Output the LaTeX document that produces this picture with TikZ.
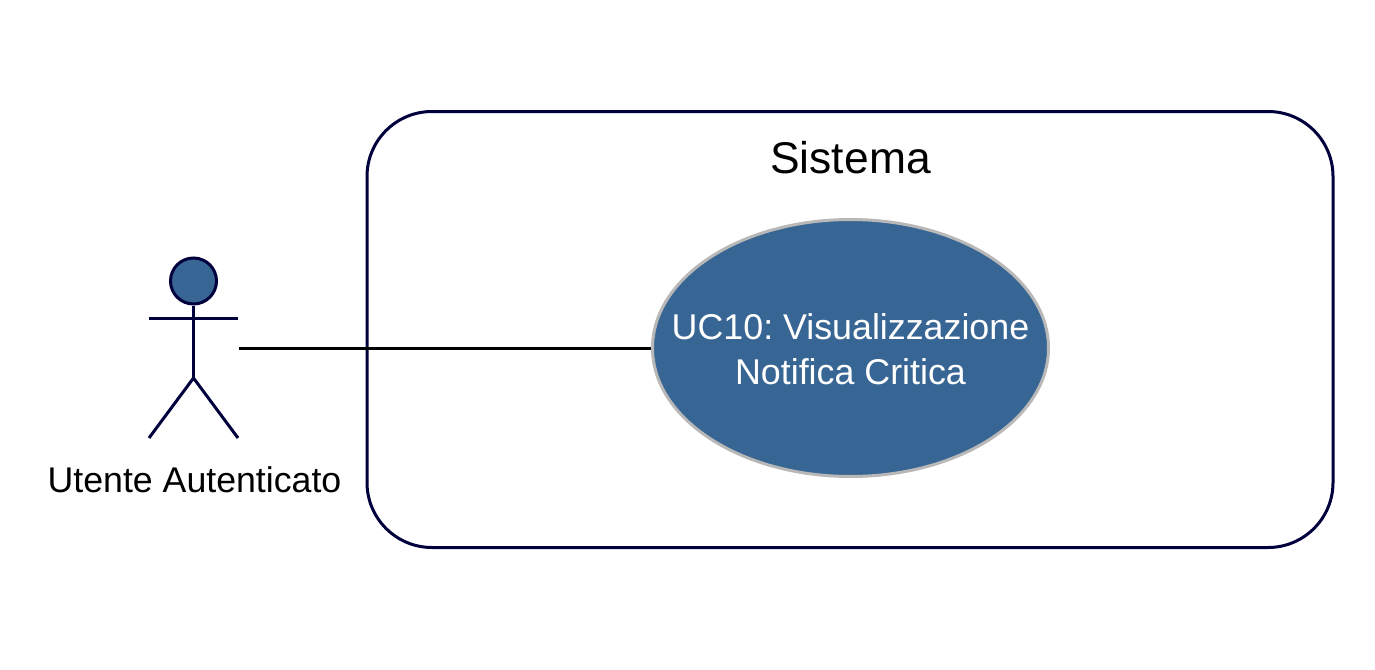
\documentclass[tikz,border=0pt]{standalone}
\usepackage{fontspec}
\setmainfont{Liberation Sans}
\usetikzlibrary{shapes.geometric}
\definecolor{navy}{HTML}{00003C}
\definecolor{ucblue}{HTML}{386694}
\definecolor{ucedge}{HTML}{B8B8B8}
\tikzset{
 x=1pt,y=-1pt,
 sysbox/.style={draw=navy,line width=3pt,rounded corners=65pt,minimum width=966pt,minimum height=436pt,inner sep=0pt},
 usecase/.style={ellipse,draw=ucedge,fill=ucblue,line width=3pt,minimum width=396pt,minimum height=257pt,inner sep=0pt},
 uclabel/.style={text=white,align=center,inner sep=0pt,font=\fontsize{35.8}{44.5}\selectfont\frenchspacing},
 actorline/.style={draw=navy,line width=3pt},
 link/.style={draw=black,line width=3pt},
 head/.style={circle,draw=navy,fill=ucblue,line width=3pt,minimum size=46pt,inner sep=0pt},
}
\begin{document}
\begin{tikzpicture}
\useasboundingbox (0,0) rectangle (1375,669);
\node[sysbox] (sys) at (850,329.5) {};
\node[font=\fontsize{44.4}{50}\selectfont] (title) at (850.5,158) {Sistema};
\node[usecase] (uc) at (850.5,348) {};
\node[uclabel] (uctext) at (850.5,349) {UC10: Visualizzazione\\Notifica Critica};
\node[head] (hd) at (193.5,281) {};
\coordinate (hip) at (193.5,378);
\coordinate (armL) at (149,318);
\coordinate (armR) at (238,318);
\coordinate (footL) at (149,438);
\coordinate (footR) at (238,438);
\coordinate (hand) at (239,348);
\draw[actorline] (hd.south) -- (hip);
\draw[actorline] (armL) -- (armR);
\draw[actorline] (footL) -- (hip) -- (footR);
\draw[link] (hand) -- (uc.west);
\node[font=\fontsize{35.7}{40}\selectfont\frenchspacing] (lbl) at (194.5,480) {Utente Autenticato};
\end{tikzpicture}
\end{document}
